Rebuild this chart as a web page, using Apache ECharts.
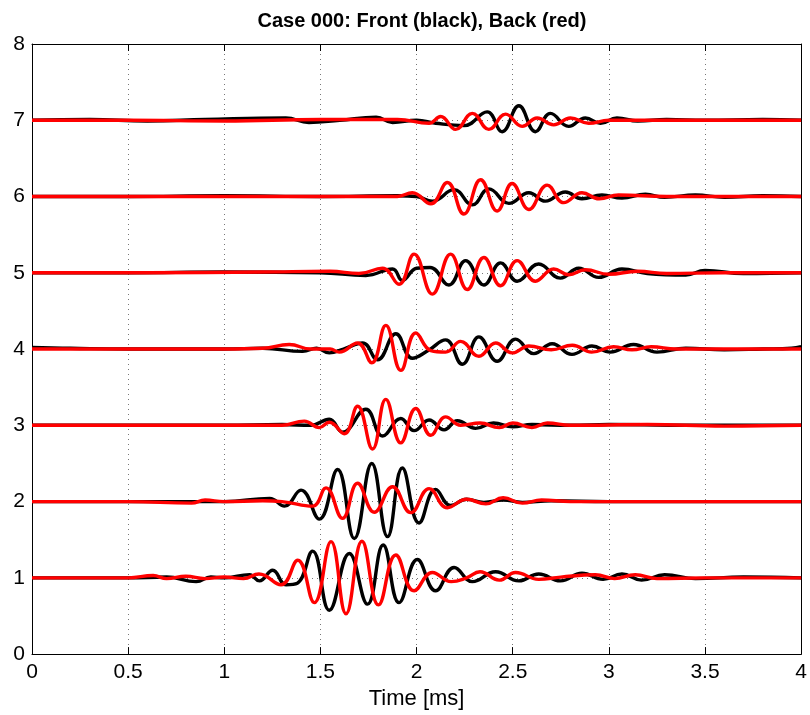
<!DOCTYPE html>
<html>
<head>
<meta charset="utf-8">
<script src="https://cdn.jsdelivr.net/npm/echarts@6/dist/echarts.min.js"></script>
<style>html,body{margin:0;padding:0;background:#fff}#c{width:810px;height:715px}</style>
</head>
<body>
<div id="c"></div>
<script>
// Tick labels
const xTicks = [0, 0.5, 1, 1.5, 2, 2.5, 3, 3.5, 4];
const yTicks = [0, 1, 2, 3, 4, 5, 6, 7, 8];

// Front (black) traces: [time ms, value]
const front1 = [[0,1.0],[0.5,1.0],[0.7,1.01],[0.854,0.95],[0.93,1.01],[1.0,1.0],[1.131,1.04],[1.183,0.96],[1.252,1.10],[1.321,0.91],[1.38,0.93],[1.459,1.35],[1.546,0.575],[1.65,1.32],[1.745,0.655],[1.826,1.43],[1.909,0.675],[2.004,1.24],[2.099,0.83],[2.195,1.135],[2.29,0.95],[2.411,1.08],[2.532,0.96],[2.635,1.05],[2.748,0.96],[2.86,1.06],[2.97,0.98],[3.068,1.05],[3.17,0.97],[3.29,1.04],[3.45,0.99],[3.7,1.01],[4,1.0]];
const front2 = [[0,2.0],[0.5,2.0],[1.0,2.0],[1.236,2.04],[1.313,1.94],[1.399,2.15],[1.494,1.77],[1.589,2.42],[1.676,1.515],[1.767,2.50],[1.849,1.54],[1.926,2.44],[2.013,1.72],[2.099,2.16],[2.177,1.95],[2.26,2.03],[2.35,1.99],[2.45,2.02],[2.55,1.99],[2.7,2.01],[3.0,2.0],[3.5,2.0],[4,2.0]];
const front3 = [[0,3.0],[0.5,3.0],[1.0,3.0],[1.3,3.01],[1.45,3.0],[1.546,3.08],[1.615,2.91],[1.736,3.21],[1.823,2.86],[1.918,3.09],[1.987,2.93],[2.065,3.07],[2.143,2.94],[2.212,3.06],[2.307,2.96],[2.4,3.03],[2.5,2.98],[2.6,3.01],[2.8,3.0],[3.0,3.01],[3.5,3.0],[4,3.0]];
const front4 = [[0,4.02],[0.2,4.01],[0.5,4.0],[1.0,4.0],[1.2,4.01],[1.408,3.97],[1.48,4.01],[1.546,3.95],[1.62,4.0],[1.719,4.08],[1.797,3.86],[1.892,4.20],[1.978,3.88],[2.06,3.98],[2.151,4.12],[2.238,3.80],[2.324,4.16],[2.419,3.84],[2.515,4.13],[2.61,3.94],[2.705,4.07],[2.808,3.93],[2.912,4.04],[3.007,3.96],[3.128,4.06],[3.25,3.96],[3.4,4.01],[3.6,3.99],[3.8,4.0],[3.95,4.01],[4,4.03]];
const front5 = [[0,5.0],[0.5,5.0],[1.0,5.01],[1.5,5.0],[1.736,4.965],[1.875,5.05],[1.926,4.90],[2.0,5.06],[2.07,5.07],[2.168,4.84],[2.255,5.16],[2.35,4.84],[2.437,5.13],[2.523,4.89],[2.635,5.115],[2.748,4.93],[2.843,5.06],[2.947,4.94],[3.068,5.05],[3.2,4.99],[3.4,4.97],[3.5,5.03],[3.7,4.99],[4,5.0]];
const front6 = [[0,6.0],[0.5,6.0],[1.0,6.01],[1.5,6.0],[1.9,6.01],[2.0,6.0],[2.082,5.94],[2.195,6.09],[2.29,5.89],[2.376,6.10],[2.48,5.91],[2.584,6.05],[2.67,5.94],[2.774,6.06],[2.86,5.97],[2.964,6.02],[3.068,5.98],[3.19,6.03],[3.29,5.99],[3.45,6.02],[3.6,5.99],[3.8,6.01],[4,6.0]];
const front7 = [[0,7.0],[0.3,7.01],[0.6,6.99],[0.9,7.01],[1.32,7.03],[1.44,6.97],[1.6,7.0],[1.79,7.04],[1.875,6.97],[2.0,7.0],[2.1,6.96],[2.247,6.93],[2.367,7.11],[2.445,6.85],[2.532,7.19],[2.618,6.85],[2.696,7.09],[2.791,6.92],[2.878,7.03],[2.956,6.96],[3.042,7.03],[3.15,6.99],[3.3,7.01],[3.5,7.0],[3.8,7.01],[4,7.0]];

// Back (red) traces: [time ms, value]
const back1 = [[0,1.0],[0.5,1.0],[0.63,1.03],[0.7,0.99],[0.8,1.02],[0.9,0.99],[1.0,1.01],[1.1,0.99],[1.18,1.05],[1.295,0.91],[1.382,1.23],[1.468,0.675],[1.555,1.475],[1.633,0.53],[1.716,1.48],[1.802,0.645],[1.892,1.30],[1.987,0.83],[2.082,1.07],[2.18,0.95],[2.26,1.0],[2.33,1.08],[2.43,0.97],[2.515,1.07],[2.635,0.98],[2.75,1.01],[2.93,1.04],[3.03,0.99],[3.137,1.04],[3.25,0.99],[3.5,1.0],[4,1.0]];
const back2 = [[0,2.0],[0.5,2.0],[0.83,1.98],[0.9,2.02],[1.0,2.0],[1.2,2.01],[1.3,2.0],[1.459,1.94],[1.529,2.18],[1.615,1.78],[1.693,2.24],[1.78,1.86],[1.875,2.195],[1.97,1.855],[2.065,2.17],[2.16,1.92],[2.26,2.03],[2.36,1.97],[2.45,2.05],[2.55,1.98],[2.65,2.02],[2.8,2.0],[3.2,2.0],[4,2.0]];
const back3 = [[0,3.0],[0.5,3.0],[1.0,3.0],[1.3,3.0],[1.416,3.055],[1.494,2.97],[1.546,3.04],[1.624,2.89],[1.693,3.25],[1.771,2.69],[1.84,3.34],[1.918,2.77],[1.996,3.22],[2.074,2.87],[2.151,3.11],[2.23,3.0],[2.33,3.03],[2.43,2.97],[2.5,3.03],[2.6,2.97],[2.68,3.03],[2.8,3.0],[3.2,3.01],[3.6,2.99],[4,3.0]];
const back4 = [[0,4.0],[0.5,4.0],[1.0,4.0],[1.2,4.01],[1.338,4.06],[1.45,4.0],[1.55,4.0],[1.598,3.96],[1.693,4.08],[1.767,3.82],[1.84,4.31],[1.918,3.72],[1.996,4.21],[2.074,3.98],[2.151,3.96],[2.229,4.10],[2.324,3.905],[2.411,4.08],[2.497,3.95],[2.584,4.04],[2.7,3.99],[2.81,4.05],[2.91,3.96],[3.025,4.03],[3.12,3.99],[3.22,4.03],[3.35,4.0],[4,4.0]];
const back5 = [[0,5.0],[0.6,5.0],[1.2,5.01],[1.55,5.02],[1.7,4.99],[1.823,5.06],[1.909,4.85],[1.987,5.245],[2.082,4.72],[2.177,5.245],[2.264,4.78],[2.35,5.20],[2.437,4.83],[2.523,5.16],[2.618,4.89],[2.713,5.05],[2.791,4.975],[2.878,5.04],[3.0,4.98],[3.15,5.02],[3.3,4.99],[3.6,5.0],[4,5.0]];
const back6 = [[0,6.0],[0.5,6.0],[1.0,6.0],[1.5,6.0],[1.9,6.0],[1.978,6.05],[2.074,5.905],[2.16,6.184],[2.246,5.77],[2.333,6.22],[2.419,5.81],[2.497,6.17],[2.584,5.83],[2.679,6.15],[2.765,5.92],[2.86,6.05],[2.95,5.97],[3.05,6.02],[3.3,6.0],[4,6.0]];
const back7 = [[0,7.0],[0.5,7.0],[1.0,6.99],[1.5,7.01],[1.9,7.01],[2.065,6.96],[2.125,7.05],[2.203,6.88],[2.29,7.09],[2.376,6.88],[2.463,7.08],[2.549,6.92],[2.627,7.03],[2.713,6.94],[2.8,7.03],[2.895,6.96],[3.0,7.0],[3.5,7.0],[4,7.0]];

const frontTraces = [front1, front2, front3, front4, front5, front6, front7];
const backTraces = [back1, back2, back3, back4, back5, back6, back7];

const chart = echarts.init(document.getElementById('c'), null, {renderer: 'canvas'});
const font = 'Liberation Sans, Arial, Helvetica, sans-serif';
const gridLine = {show: true, lineStyle: {color: '#777', width: 1, type: [1, 4]}};
const mkSeries = (data, color, name) => ({
  name, type: 'line', data, showSymbol: false, smooth: 0.45,
  lineStyle: {color, width: 3.4}, itemStyle: {color}, animation: false, z: color === '#ff0000' ? 3 : 2
});
const series = [];
frontTraces.forEach((d, i) => series.push(mkSeries(d, '#000000', 'Front ' + (i + 1))));
backTraces.forEach((d, i) => series.push(mkSeries(d, '#ff0000', 'Back ' + (i + 1))));

chart.setOption({
  animation: false,
  title: {
    text: 'Case 000: Front (black), Back (red)',
    left: 417, top: 6, textAlign: 'center',
    textStyle: {fontFamily: font, fontSize: 20, fontWeight: 'bold', color: '#000'}
  },
  grid: {left: 32, right: 7, top: 44, bottom: 56, containLabel: false},
  xAxis: [{
    type: 'value', min: xTicks[0], max: xTicks[xTicks.length - 1], interval: 0.5,
    name: 'Time [ms]', nameLocation: 'middle', nameGap: 32,
    nameTextStyle: {fontFamily: font, fontSize: 22, color: '#000'},
    axisLine: {show: true, onZero: false, lineStyle: {color: '#000', width: 1}},
    axisTick: {show: true, inside: true, length: 7, lineStyle: {color: '#000'}},
    axisLabel: {fontFamily: font, fontSize: 21, color: '#000', margin: 8},
    splitLine: gridLine
  }, {
    type: 'value', position: 'top', min: xTicks[0], max: xTicks[xTicks.length - 1], interval: 0.5,
    axisLine: {show: true, onZero: false, lineStyle: {color: '#000', width: 1}},
    axisTick: {show: true, inside: true, length: 7, lineStyle: {color: '#000'}},
    axisLabel: {show: false}, splitLine: {show: false}
  }],
  yAxis: [{
    type: 'value', min: yTicks[0], max: yTicks[yTicks.length - 1], interval: 1,
    axisLine: {show: true, onZero: false, lineStyle: {color: '#000', width: 1}},
    axisTick: {show: true, inside: true, length: 7, lineStyle: {color: '#000'}},
    axisLabel: {fontFamily: font, fontSize: 21, color: '#000', margin: 7},
    splitLine: gridLine
  }, {
    type: 'value', position: 'right', min: yTicks[0], max: yTicks[yTicks.length - 1], interval: 1,
    axisLine: {show: true, onZero: false, lineStyle: {color: '#000', width: 1}},
    axisTick: {show: true, inside: true, length: 7, lineStyle: {color: '#000'}},
    axisLabel: {show: false}, splitLine: {show: false}
  }],
  series
});
</script>
</body>
</html>
